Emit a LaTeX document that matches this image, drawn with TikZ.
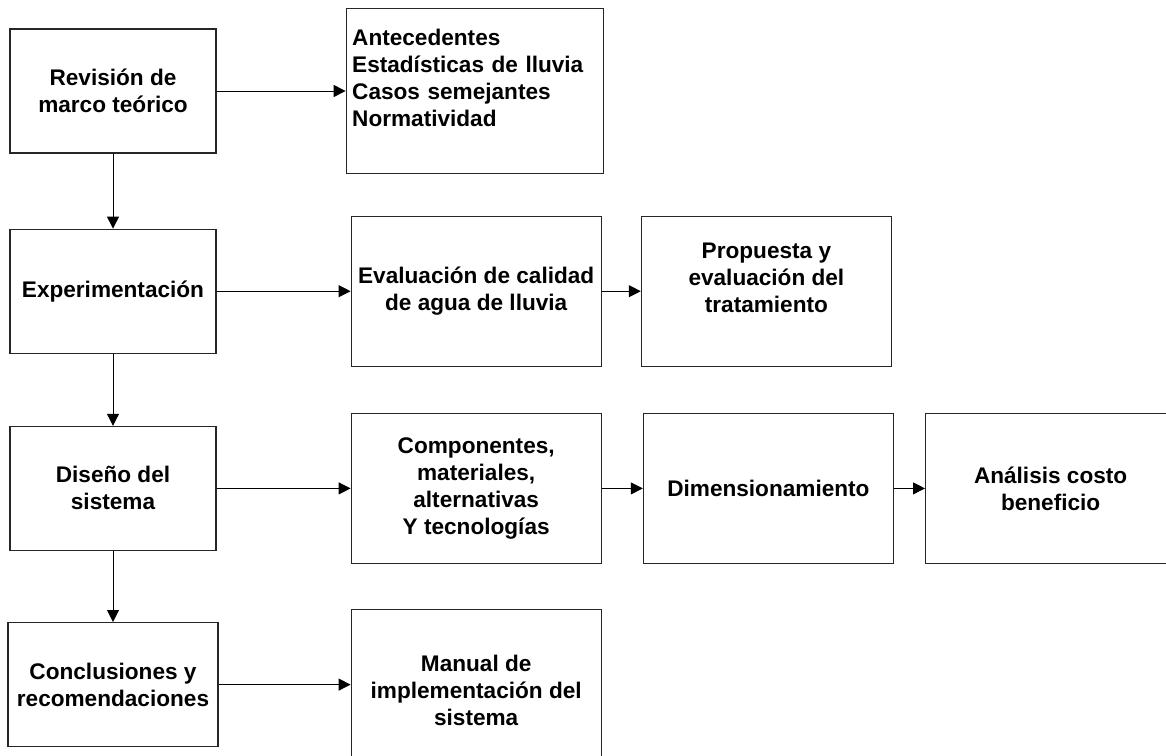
\documentclass[tikz,border=0pt]{standalone}
\usepackage{fontspec}
\setmainfont{Liberation Sans}
\usetikzlibrary{arrows.meta, positioning}
\tikzset{
  procbox/.style={draw=black!85, line width=1.2pt, fill=white, align=center,
    inner sep=4pt, font=\fontsize{22.6}{27}\selectfont\bfseries},
  leftbox/.style={procbox, minimum width=206pt, minimum height=124pt},
  rightbox/.style={procbox, minimum width=250pt, minimum height=150pt},
  procarrow/.style={-{Triangle[length=12pt, width=12pt]}, line width=1pt, black},
}

\begin{document}
\begin{tikzpicture}[x=1pt, y=1pt]
  \useasboundingbox (0,0) rectangle (1166,-755);
  % left column
  \node[leftbox] (rev) at (113,-91) {Revisión de\\marco teórico};
  \node[leftbox, below=75pt of rev] (exp) {Experimentación};
  \node[leftbox, below=72pt of exp] (dis) {Diseño del\\sistema};
  \node[leftbox, below=71pt of dis, minimum width=210pt] (con) {Conclusiones y\\recomendaciones};
  % right side
  \node[procbox, right=129pt of rev, align=left, text width=245pt, inner xsep=6pt, minimum height=165pt] (ant)
    {Antecedentes\\Estadísticas de lluvia\\Casos semejantes\\Normatividad\\\mbox{}};
  \node[rightbox, right=134pt of exp] (eval) {Evaluación de calidad\\de agua de lluvia};
  \node[rightbox, right=39pt of eval] (prop) {Propuesta y\\evaluación del\\tratamiento\\\mbox{}};
  \node[rightbox, right=134pt of dis] (comp) {Componentes,\\materiales,\\alternativas\\Y tecnologías};
  \node[rightbox, right=41pt of comp] (dim) {Dimensionamiento};
  \node[rightbox, right=31pt of dim] (cost) {Análisis costo\\beneficio};
  \node[rightbox, right=132pt of con] (man) {\mbox{}\\Manual de\\implementación del\\sistema};
  \draw[procarrow] (rev) -- (exp);
  \draw[procarrow] (exp) -- (dis);
  \draw[procarrow] (dis) -- (con);
  \draw[procarrow] (rev) -- (ant);
  \draw[procarrow] (exp) -- (eval);
  \draw[procarrow] (eval) -- (prop);
  \draw[procarrow] (dis) -- (comp);
  \draw[procarrow] (comp) -- (dim);
  \draw[procarrow] (dim) -- (cost);
  \draw[procarrow] (con) -- (man);
\end{tikzpicture}
\end{document}
